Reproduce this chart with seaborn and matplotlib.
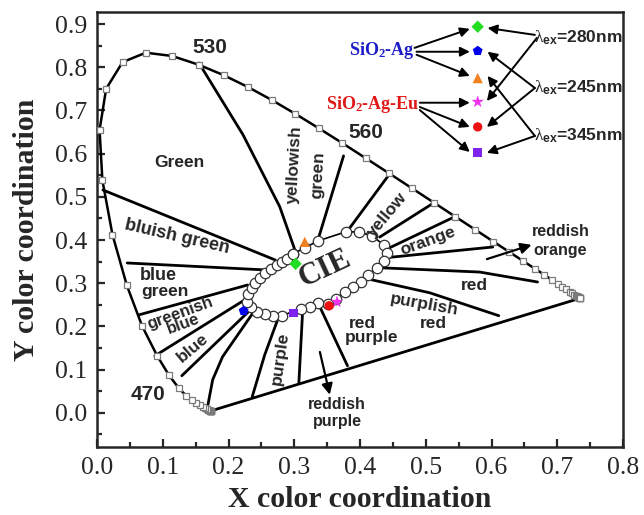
import numpy as np
import matplotlib
matplotlib.use('Agg')
import matplotlib.pyplot as plt
from matplotlib.ticker import MultipleLocator
import seaborn as sns

sns.set_style('ticks')
plt.rcParams['font.family'] = ['Liberation Sans', 'DejaVu Sans']
plt.rcParams['mathtext.fontset'] = 'custom'
plt.rcParams['mathtext.rm'] = 'Liberation Serif'
plt.rcParams['mathtext.it'] = 'Liberation Serif'
plt.rcParams['mathtext.bf'] = 'Liberation Serif:bold'
plt.rcParams['mathtext.sf'] = 'Liberation Sans:bold'

# ---------------- data ----------------
# CIE 1931 spectral locus, 380-700 nm every 5 nm
locus_x = [0.1741, 0.1740, 0.1738, 0.1736, 0.1733, 0.1730, 0.1726, 0.1721, 0.1714, 0.1703,
           0.1689, 0.1669, 0.1644, 0.1611, 0.1566, 0.1510, 0.1440, 0.1355, 0.1241, 0.1096,
           0.0913, 0.0687, 0.0454, 0.0235, 0.0082, 0.0039, 0.0139, 0.0389, 0.0743, 0.1142,
           0.1547, 0.1929, 0.2296, 0.2658, 0.3016, 0.3373, 0.3731, 0.4087, 0.4441, 0.4788,
           0.5125, 0.5448, 0.5752, 0.6029, 0.6270, 0.6482, 0.6658, 0.6801, 0.6915, 0.7006,
           0.7079, 0.7140, 0.7190, 0.7230, 0.7260, 0.7283, 0.7300, 0.7311, 0.7320, 0.7327,
           0.7334, 0.7340, 0.7344, 0.7346, 0.7347]
locus_y = [0.0050, 0.0050, 0.0049, 0.0049, 0.0048, 0.0048, 0.0048, 0.0048, 0.0051, 0.0058,
           0.0069, 0.0086, 0.0109, 0.0138, 0.0177, 0.0227, 0.0297, 0.0399, 0.0578, 0.0868,
           0.1327, 0.2007, 0.2950, 0.4127, 0.5384, 0.6548, 0.7502, 0.8120, 0.8338, 0.8262,
           0.8059, 0.7816, 0.7543, 0.7243, 0.6923, 0.6589, 0.6245, 0.5896, 0.5547, 0.5202,
           0.4866, 0.4544, 0.4242, 0.3965, 0.3725, 0.3514, 0.3340, 0.3197, 0.3083, 0.2993,
           0.2920, 0.2859, 0.2809, 0.2770, 0.2740, 0.2717, 0.2700, 0.2689, 0.2680, 0.2673,
           0.2666, 0.2660, 0.2656, 0.2654, 0.2653]

# white-region ring of circles
ring_x = [0.298, 0.316, 0.336, 0.378, 0.398, 0.418, 0.436, 0.441, 0.436, 0.426,
          0.412, 0.401, 0.389, 0.377, 0.363, 0.351, 0.336, 0.324, 0.310, 0.281,
          0.267, 0.255, 0.243, 0.234, 0.228, 0.229, 0.236, 0.240, 0.248, 0.255,
          0.264, 0.274, 0.281, 0.289, 0.298]
ring_y = [0.368, 0.382, 0.398, 0.419, 0.419, 0.410, 0.389, 0.370, 0.352, 0.336,
          0.319, 0.303, 0.292, 0.280, 0.264, 0.252, 0.255, 0.245, 0.241, 0.225,
          0.225, 0.229, 0.234, 0.245, 0.257, 0.275, 0.289, 0.301, 0.313, 0.324,
          0.333, 0.343, 0.350, 0.356, 0.368]

# colour-region boundaries (x list, y list)
b_green_ygreen = ([0.155, 0.222, 0.278, 0.301], [0.810, 0.644, 0.477, 0.377])
b_ygreen_gy = ([0.375, 0.336], [0.595, 0.400])
b_yellow_left = ([0.444, 0.380], [0.551, 0.419])
b_yellow_right = ([0.512, 0.430], [0.486, 0.407])
b_orange_up = ([0.544, 0.442], [0.454, 0.380])
b_orange_low = ([0.602, 0.438], [0.384, 0.359])
b_red_up = ([0.430, 0.582, 0.670], [0.336, 0.326, 0.303])
b_red_low = ([0.418, 0.506, 0.611], [0.308, 0.278, 0.225])
b_rp_right = ([0.336, 0.381], [0.255, 0.109])
b_rp_left = ([0.313, 0.307], [0.243, 0.069])
b_purple_left = ([0.277, 0.255, 0.236], [0.225, 0.134, 0.037])
b_purple_blue = ([0.237, 0.191, 0.176, 0.167], [0.231, 0.130, 0.077, 0.005])
b_blue_purple = ([0.129, 0.233], [0.086, 0.238])
b_gb_blue = ([0.088, 0.225], [0.132, 0.262])
b_bg_gb = ([0.064, 0.229], [0.227, 0.296])
b_blg_bg = ([0.046, 0.255], [0.347, 0.331])
b_green_blg = ([0.009, 0.271], [0.516, 0.354])
boundaries = [b_green_ygreen, b_ygreen_gy, b_yellow_left, b_yellow_right, b_orange_up,
              b_orange_low, b_red_up, b_red_low, b_rp_right, b_rp_left, b_purple_left,
              b_purple_blue, b_blue_purple, b_gb_blue, b_bg_gb, b_blg_bg, b_green_blg]

# sample chromaticity points
sample_names = ['280 Ag', '245 Ag', '345 Ag', '280 Eu', '245 Eu', '345 Eu']
sample_x = [0.302, 0.223, 0.316, 0.365, 0.353, 0.299]
sample_y = [0.345, 0.236, 0.396, 0.257, 0.248, 0.231]
sample_markers = ['D', 'p', '^', '*', 'o', 's']
sample_colors = ['#22dd22', '#0000ee', '#f08020', '#ee33ee', '#ee1111', '#7f22ee']
sample_sizes = [40, 55, 55, 90, 45, 40]
key_x = 0.579
key_y = [0.894, 0.838, 0.775, 0.720, 0.662, 0.602]

# region labels: text, x, y, rotation, size
region_labels = [
    ('Green', 0.126, 0.579, 0, 12.5),
    ('yellowish', 0.301, 0.574, 87, 12.5),
    ('green', 0.336, 0.551, 87, 12.5),
    ('bluish green', 0.122, 0.407, -13, 13),
    ('blue', 0.093, 0.317, 0, 13),
    ('green', 0.103, 0.280, 0, 12.5),
    ('greenish', 0.126, 0.231, 20, 12),
    ('blue', 0.131, 0.206, 20, 12),
    ('blue', 0.146, 0.150, 40, 12.5),
    ('purple', 0.278, 0.125, 82, 12.5),
    ('red', 0.403, 0.208, 0, 12.5),
    ('purple', 0.418, 0.174, 0, 12.5),
    ('reddish', 0.365, 0.019, 0, 11.5),
    ('purple', 0.365, -0.021, 0, 11.5),
    ('purplish', 0.498, 0.250, -10, 12.5),
    ('red', 0.511, 0.208, 0, 12.5),
    ('red', 0.574, 0.294, 0, 12.5),
    ('orange', 0.503, 0.398, 20, 12.5),
    ('reddish', 0.705, 0.419, 0, 11.5),
    ('orange', 0.704, 0.375, 0, 11.5),
    ('yellow', 0.441, 0.458, 50, 12.5),
]
wl_labels = [('530', 0.172, 0.845), ('560', 0.409, 0.648), ('470', 0.078, 0.042)]

# ---------------- figure ----------------
fig = plt.figure(figsize=(6.44, 5.15), dpi=100)
ax = fig.add_axes([97 / 644, 68 / 515, 526 / 644, 435 / 515])

# boundaries
for bx, by in boundaries:
    sns.lineplot(x=bx, y=by, sort=False, estimator=None, color='black', lw=2.0, ax=ax, zorder=2)

# purple line
sns.lineplot(x=[locus_x[0], locus_x[-1]], y=[locus_y[0], locus_y[-1]], sort=False,
             estimator=None, color='black', lw=2.0, ax=ax, zorder=2)

# spectral locus
sns.lineplot(x=locus_x, y=locus_y, sort=False, estimator=None, color='black', lw=1.8,
             marker='s', markersize=5, markerfacecolor='white', markeredgecolor='#7a7a7a',
             markeredgewidth=0.9, ax=ax, zorder=3)

# ring
sns.lineplot(x=ring_x, y=ring_y, sort=False, estimator=None, color='black', lw=1.2,
             marker='o', markersize=7.5, markerfacecolor='white', markeredgecolor='#333333',
             markeredgewidth=0.9, ax=ax, zorder=4)

# samples and key markers
for i in range(len(sample_x)):
    sns.scatterplot(x=[sample_x[i], key_x], y=[sample_y[i], key_y[i]], marker=sample_markers[i],
                    s=sample_sizes[i], color=sample_colors[i], edgecolor='none', ax=ax, zorder=6)

# arrows in key
arw = dict(arrowstyle='-|>', color='black', lw=1.4, mutation_scale=14, shrinkA=0, shrinkB=0)
for (sx, sy), (tx, ty) in [((0.483, 0.845), (0.567, 0.889)), ((0.486, 0.836), (0.567, 0.836)),
                           ((0.486, 0.829), (0.567, 0.780)), ((0.491, 0.718), (0.567, 0.718)),
                           ((0.491, 0.708), (0.567, 0.662)), ((0.491, 0.701), (0.567, 0.604)),
                           ((0.666, 0.875), (0.594, 0.891)), ((0.669, 0.868), (0.593, 0.722)),
                           ((0.666, 0.752), (0.594, 0.836)), ((0.666, 0.752), (0.593, 0.662)),
                           ((0.666, 0.641), (0.594, 0.780)), ((0.666, 0.641), (0.593, 0.602))]:
    ax.annotate('', xy=(tx, ty), xytext=(sx, sy), arrowprops=arw, zorder=5)

# region arrows
arw2 = dict(arrowstyle='-|>', color='black', lw=1.6, mutation_scale=16, shrinkA=0, shrinkB=0)
ax.annotate('', xy=(0.661, 0.389), xytext=(0.593, 0.356), arrowprops=arw2)
ax.annotate('', xy=(0.354, 0.042), xytext=(0.339, 0.141), arrowprops=arw2)

# key text
ax.text(0.483, 0.840, r'SiO$_\mathbf{2}$-Ag', ha='right', va='center', color='#1c1cc8',
        fontfamily='Liberation Serif', fontweight='bold', fontsize=13, zorder=7)
ax.text(0.491, 0.713, r'SiO$_\mathbf{2}$-Ag-Eu', ha='right', va='center', color='#e01818',
        fontfamily='Liberation Serif', fontweight='bold', fontsize=13, zorder=7)
for lab, yy in [('280', 0.868), ('245', 0.752), ('345', 0.641)]:
    ax.text(0.664, yy, r'$\lambda_{\mathsf{ex}}$=' + lab + 'nm', ha='left', va='center',
            fontweight='bold', fontsize=12.5, zorder=7)

# region labels
for txt, tx, ty, rot, fs in region_labels:
    ax.text(tx, ty, txt, ha='center', va='center', rotation=rot, rotation_mode='anchor',
            fontweight='bold', fontsize=fs, zorder=7)
for txt, tx, ty in wl_labels:
    ax.text(tx, ty, txt, ha='center', va='center', fontweight='bold', fontsize=15, zorder=7)
ax.text(0.347, 0.333, 'CIE', ha='center', va='center', rotation=25, rotation_mode='anchor',
        fontfamily='Liberation Serif', fontweight='bold', fontsize=22, zorder=7)

# axes
ax.set_xlim(0, 0.8)
ax.set_ylim(-0.079, 0.928)
ax.set_xticks(np.arange(0, 0.81, 0.1))
ax.set_yticks(np.arange(0, 0.91, 0.1))
ax.xaxis.set_minor_locator(MultipleLocator(0.05))
ax.yaxis.set_minor_locator(MultipleLocator(0.05))
ax.tick_params(which='both', direction='in', top=False, right=False, width=1.6, pad=7)
ax.tick_params(which='major', length=6)
ax.tick_params(which='minor', length=3.5)
for lab in ax.get_xticklabels() + ax.get_yticklabels():
    lab.set_fontfamily('Liberation Serif')
    lab.set_fontsize(18.5)
for sp in ax.spines.values():
    sp.set_linewidth(1.8)
    sp.set_visible(True)
ax.set_xlabel('X color coordination', fontfamily='Liberation Serif', fontweight='bold',
              fontsize=21.5, labelpad=5)
ax.set_ylabel('Y color coordination', fontfamily='Liberation Serif', fontweight='bold',
              fontsize=21.5, labelpad=11)

fig.savefig('out.png', dpi=100)
